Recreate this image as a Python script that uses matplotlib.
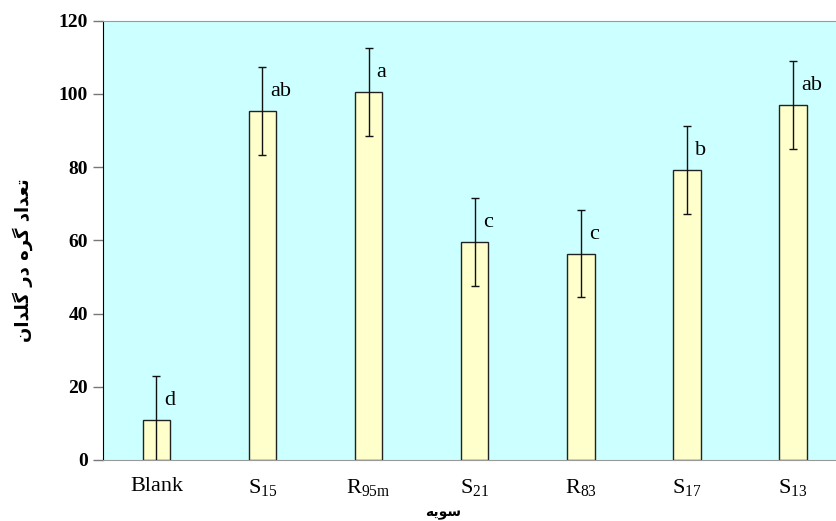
import numpy as np
import matplotlib
matplotlib.use('Agg')
import matplotlib.pyplot as plt

# data
strains = ['Blank', 'S$_{15}$', 'R$_{95m}$', 'S$_{21}$', 'R$_{83}$', 'S$_{17}$', 'S$_{13}$']
nodules = [10.9, 95.4, 100.5, 59.6, 56.4, 79.2, 97.0]
errors = [12, 12, 12, 12, 12, 12, 12]
groups = ['d', 'ab', 'a', 'c', 'c', 'b', 'ab']

# Persian labels written in visual order with presentation forms
# (matplotlib does no Arabic shaping)
ylab = '\uFEE5\uFE8D\uFEAA\uFEE0\uFB94 \uFEAD\uFEA9 \uFEE9\uFEAE\uFB94 \uFEA9\uFE8D\uFEAA\uFECC\uFE97'
xlab = '\uFEEA\uFBFE\uFEEE\uFEB3'

plt.rcParams['mathtext.fontset'] = 'custom'
plt.rcParams['mathtext.rm'] = 'Liberation Serif'
plt.rcParams['mathtext.it'] = 'Liberation Serif'
plt.rcParams['font.family'] = ['Liberation Serif', 'DejaVu Sans']

fig = plt.figure(figsize=(8.36, 5.21), dpi=100)
ax = fig.add_axes([0.1236, 0.1171, 0.8884, 0.8432])
ax.set_facecolor('#CCFFFF')

x = np.arange(len(strains))
ax.bar(x, nodules, width=0.26, color='#FFFFCC', edgecolor='#222222', linewidth=1.0, zorder=2)
ax.errorbar(x, nodules, yerr=errors, fmt='none', ecolor='#111111', elinewidth=1.0,
            capsize=3, capthick=1.0, zorder=3)
for i in range(len(x)):
    ax.text(x[i] + 0.075, nodules[i] + 4, groups[i], fontsize=16, ha='left',
            va='baseline', zorder=4)

ax.set_xlim(-0.5, 6.5)
ax.set_ylim(0, 120)
ax.set_yticks(np.arange(0, 121, 20))
ax.set_xticks(x)
ax.set_xticklabels(strains, fontsize=16)
ax.tick_params(axis='x', length=0, pad=12)
ax.tick_params(axis='y', direction='out', length=7, width=1, color='#777777', pad=4)
for lab in ax.get_yticklabels():
    lab.set_fontweight('bold')
    lab.set_fontsize(14)

ax.spines['left'].set_color('black')
ax.spines['top'].set_color('#999999')
ax.spines['bottom'].set_color('#999999')
ax.spines['right'].set_visible(False)

fig.text(0.027, 0.5, ylab, rotation=90, ha='center', va='center', fontsize=13,
         fontweight='bold', family=['DejaVu Sans'])
fig.text(443 / 836, 1 - 513 / 521, xlab, ha='center', va='center', fontsize=10,
         fontweight='bold', family=['DejaVu Sans'])

fig.savefig('out.png', dpi=100)
